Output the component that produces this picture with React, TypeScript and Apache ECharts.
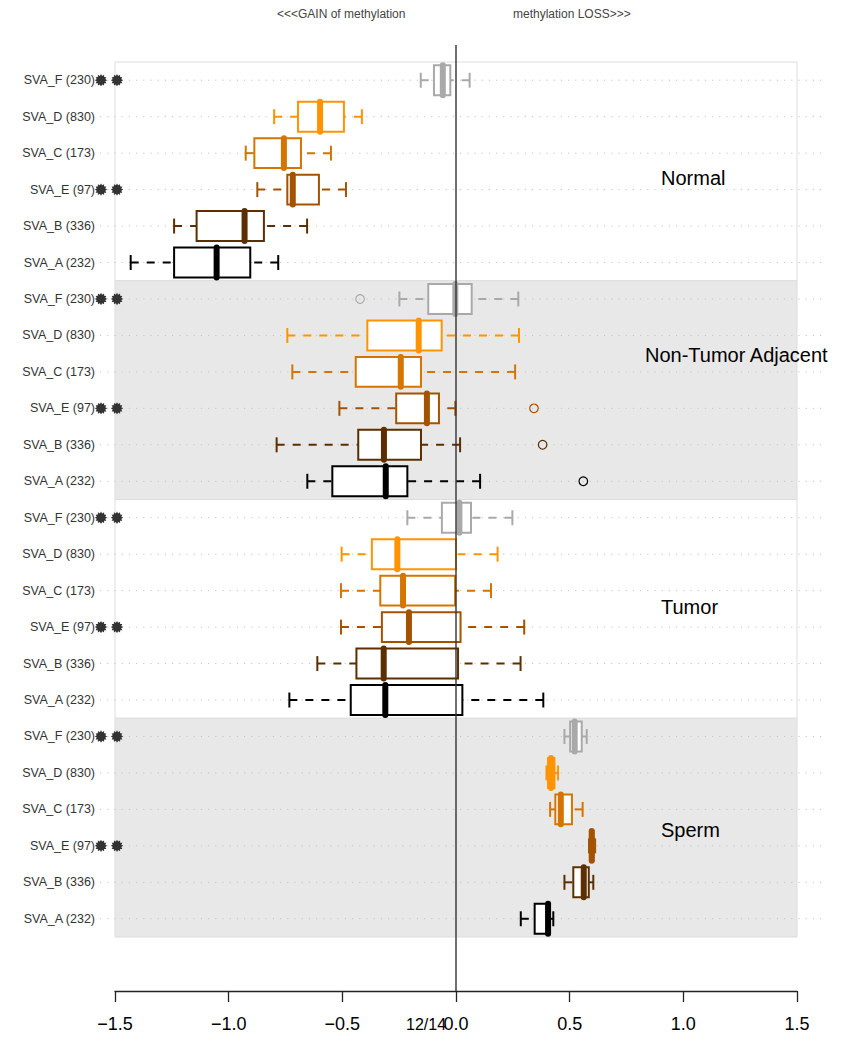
import React, { useEffect, useRef } from "react";
import * as echarts from "echarts";

const panelNames = ["Normal", "Non-Tumor Adjacent", "Tumor", "Sperm"];
const elementNames = ["SVA_F", "SVA_D", "SVA_C", "SVA_E", "SVA_B", "SVA_A"];
const elementCounts = [230, 830, 173, 97, 336, 232];
const significant = [true, false, false, true, false, false];
const elementColors = ["#a9a9a9", "#ff9400", "#d47500", "#a35300", "#5b2f00", "#000000"];

// [lower whisker, Q1, median, Q3, upper whisker]
const normalStats = [
  [-0.155, -0.097, -0.058, -0.025, 0.06],
  [-0.8, -0.695, -0.598, -0.493, -0.414],
  [-0.925, -0.887, -0.757, -0.682, -0.55],
  [-0.874, -0.742, -0.718, -0.603, -0.484],
  [-1.24, -1.141, -0.93, -0.845, -0.655],
  [-1.431, -1.24, -1.053, -0.905, -0.782],
];
const nonTumorStats = [
  [-0.249, -0.122, -0.003, 0.069, 0.274],
  [-0.742, -0.39, -0.164, -0.063, 0.277],
  [-0.72, -0.441, -0.243, -0.154, 0.26],
  [-0.513, -0.263, -0.128, -0.075, -0.003],
  [-0.789, -0.43, -0.317, -0.154, 0.018],
  [-0.654, -0.544, -0.309, -0.214, 0.106],
];
const tumorStats = [
  [-0.214, -0.062, 0.015, 0.066, 0.248],
  [-0.503, -0.37, -0.258, 0.0, 0.183],
  [-0.506, -0.333, -0.233, -0.004, 0.154],
  [-0.506, -0.326, -0.207, 0.02, 0.3],
  [-0.61, -0.438, -0.318, 0.009, 0.284],
  [-0.733, -0.463, -0.311, 0.028, 0.384],
];
const spermStats = [
  [0.477, 0.502, 0.522, 0.553, 0.575],
  [0.398, 0.405, 0.418, 0.433, 0.449],
  [0.414, 0.437, 0.461, 0.51, 0.557],
  [0.585, 0.59, 0.597, 0.605, 0.612],
  [0.477, 0.516, 0.562, 0.584, 0.604],
  [0.285, 0.346, 0.405, 0.412, 0.428],
];
// [panel index, element index, value]
const outliers = [
  [1, 0, -0.422],
  [1, 3, 0.343],
  [1, 4, 0.381],
  [1, 5, 0.56],
];
const xTicks = { min: -1.5, max: 1.5, interval: 0.5 };
const headerLeft = "<<<GAIN of methylation";
const headerRight = "methylation LOSS>>>";
const pageLabel = "12/14";

const FONT = "'Liberation Sans', Arial, Helvetica, sans-serif";

export default function App() {
  const ref = useRef<HTMLDivElement>(null);
  useEffect(() => {
    if (!ref.current) return;
    const chart = echarts.init(ref.current, undefined, { renderer: "svg" });
    const allStats = [normalStats, nonTumorStats, tumorStats, spermStats];
    const nEl = elementNames.length;
    const categories: string[] = [];
    const boxRows: number[][] = [];
    const starRows: number[][] = [];
    allStats.forEach((ps, p) => {
      ps.forEach((s, e) => {
        const row = p * nEl + e;
        categories.push(String(row));
        boxRows.push([row, ...s]);
        if (significant[e]) starRows.push([row]);
      });
    });
    const outlierRows = outliers.map(([p, e, v]) => [p * nEl + e, v]);
    const panelRows = panelNames.map((_, p) => [p * nEl, p * nEl + nEl - 1, p]);

    const option: any = {
      animation: false,
      textStyle: { fontFamily: FONT },
      grid: { left: 115, right: 53, top: 62, bottom: 113 },
      xAxis: {
        type: "value",
        min: xTicks.min,
        max: xTicks.max,
        interval: xTicks.interval,
        offset: 54,
        splitLine: { show: false },
        axisLine: { show: true, lineStyle: { color: "#222", width: 1.3 } },
        axisTick: { show: true, length: 11, lineStyle: { color: "#222", width: 1.3 } },
        axisLabel: {
          margin: 24,
          fontSize: 18,
          color: "#000",
          fontFamily: FONT,
          formatter: (v: number) => (v < 0 ? "\u2212" : "") + Math.abs(v).toFixed(1),
        },
      },
      yAxis: {
        type: "category",
        inverse: true,
        data: categories,
        axisLine: { show: false },
        axisTick: { show: false },
        splitLine: { show: false },
        axisLabel: {
          margin: 20,
          fontSize: 12.5,
          color: "#333",
          fontFamily: FONT,
          formatter: (_v: string, idx: number) =>
            `${elementNames[idx % nEl]} (${elementCounts[idx % nEl]})`,
        },
      },
      graphic: [
        { type: "text", left: 277, top: 8, style: { text: headerLeft, fontSize: 12, fill: "#444", fontFamily: FONT } },
        { type: "text", left: 513, top: 8, style: { text: headerRight, fontSize: 12, fill: "#444", fontFamily: FONT } },
        { type: "text", left: 661, top: 168, z: 10, style: { text: panelNames[0], fontSize: 20, fill: "#000", fontFamily: FONT } },
        { type: "text", left: 645, top: 345, z: 10, style: { text: panelNames[1], fontSize: 20, fill: "#000", fontFamily: FONT } },
        { type: "text", left: 661, top: 597, z: 10, style: { text: panelNames[2], fontSize: 20, fill: "#000", fontFamily: FONT } },
        { type: "text", left: 661, top: 820, z: 10, style: { text: panelNames[3], fontSize: 20, fill: "#000", fontFamily: FONT } },
        { type: "text", left: 406, top: 1016, z: 10, style: { text: pageLabel, fontSize: 16, fill: "#000", fontFamily: FONT } },
      ],
      series: [
        {
          type: "custom",
          name: "panels",
          z: 1,
          clip: false,
          data: panelRows,
          encode: { y: [0, 1] },
          renderItem: (params: any, api: any) => {
            const cs = params.coordSys;
            const bandH = api.size([0, 1])[1];
            const yTop = api.coord([0, api.value(0)])[1] - bandH / 2;
            const yBot = api.coord([0, api.value(1)])[1] + bandH / 2;
            const shaded = api.value(2) % 2 === 1;
            return {
              type: "rect",
              shape: { x: cs.x, y: yTop, width: cs.width, height: yBot - yTop },
              style: { fill: shaded ? "#e8e8e8" : "#ffffff", stroke: "#dddddd", lineWidth: 1 },
            };
          },
        },
        {
          type: "custom",
          name: "guides",
          z: 2,
          clip: false,
          data: boxRows.map((r) => [r[0]]),
          encode: { y: 0 },
          renderItem: (params: any, api: any) => {
            const cs = params.coordSys;
            const y = api.coord([0, api.value(0)])[1];
            return {
              type: "line",
              shape: { x1: cs.x - 15, y1: y, x2: cs.x + cs.width + 28, y2: y },
              style: { stroke: "#c4c4c4", lineWidth: 1, lineDash: [1.2, 6] },
            };
          },
        },
        {
          type: "custom",
          name: "boxes",
          z: 3,
          clip: false,
          data: boxRows,
          encode: { y: 0, x: [1, 2, 3, 4, 5] },
          renderItem: (params: any, api: any) => {
            const row = api.value(0);
            const color = elementColors[row % nEl];
            const y = api.coord([0, row])[1];
            const bandH = api.size([0, 1])[1];
            const boxH = bandH * 0.82;
            const capH = boxH * 0.5;
            const xLo = api.coord([api.value(1), row])[0];
            const xQ1 = api.coord([api.value(2), row])[0];
            const xMed = api.coord([api.value(3), row])[0];
            const xQ3 = api.coord([api.value(4), row])[0];
            const xHi = api.coord([api.value(5), row])[0];
            const lw = 2;
            return {
              type: "group",
              children: [
                { type: "line", shape: { x1: xLo, y1: y, x2: xQ1, y2: y }, style: { stroke: color, lineWidth: lw, lineDash: [8, 8] } },
                { type: "line", shape: { x1: xHi, y1: y, x2: xQ3, y2: y }, style: { stroke: color, lineWidth: lw, lineDash: [8, 8] } },
                { type: "line", shape: { x1: xLo, y1: y - capH / 2, x2: xLo, y2: y + capH / 2 }, style: { stroke: color, lineWidth: lw } },
                { type: "line", shape: { x1: xHi, y1: y - capH / 2, x2: xHi, y2: y + capH / 2 }, style: { stroke: color, lineWidth: lw } },
                { type: "rect", shape: { x: xQ1, y: y - boxH / 2, width: xQ3 - xQ1, height: boxH }, style: { fill: "#ffffff", stroke: color, lineWidth: lw } },
                { type: "line", shape: { x1: xMed, y1: y - boxH / 2, x2: xMed, y2: y + boxH / 2 }, style: { stroke: color, lineWidth: 6, lineCap: "round" } },
              ],
            };
          },
        },
        {
          type: "custom",
          name: "outliers",
          z: 3,
          clip: false,
          data: outlierRows,
          encode: { y: 0, x: 1 },
          renderItem: (params: any, api: any) => {
            const row = api.value(0);
            const pt = api.coord([api.value(1), row]);
            return {
              type: "circle",
              shape: { cx: pt[0], cy: pt[1], r: 4.3 },
              style: { fill: "none", stroke: elementColors[row % nEl], lineWidth: 1.2 },
            };
          },
        },
        {
          type: "custom",
          name: "significance",
          z: 4,
          clip: false,
          data: starRows,
          encode: { y: 0 },
          renderItem: (params: any, api: any) => {
            const cs = params.coordSys;
            const y = api.coord([0, api.value(0)])[1];
            const star = (cx: number) => {
              const pts: number[][] = [];
              for (let k = 0; k < 24; k++) {
                const a = (k * Math.PI) / 12;
                const r = k % 2 === 0 ? 6.2 : 4.4;
                pts.push([cx + r * Math.cos(a), y + r * Math.sin(a)]);
              }
              return { type: "polygon", shape: { points: pts }, style: { fill: "#333333", stroke: "none" } };
            };
            return { type: "group", children: [star(cs.x - 14), star(cs.x + 2)] };
          },
        },
        {
          type: "custom",
          name: "zero",
          z: 5,
          clip: false,
          data: [[0, 0]],
          encode: { x: 0, y: 1 },
          renderItem: (params: any, api: any) => {
            const cs = params.coordSys;
            const x = api.coord([api.value(0), 0])[0];
            return {
              type: "line",
              shape: { x1: x, y1: cs.y - 17, x2: x, y2: cs.y + cs.height + 54 },
              style: { stroke: "#333333", lineWidth: 1.4 },
            };
          },
        },
      ],
    };
    chart.setOption(option);
    return () => chart.dispose();
  }, []);
  return (
    <div
      ref={ref}
      style={{ position: "absolute", left: 0, top: 0, width: 850, height: 1050, background: "#fff" }}
    />
  );
}
